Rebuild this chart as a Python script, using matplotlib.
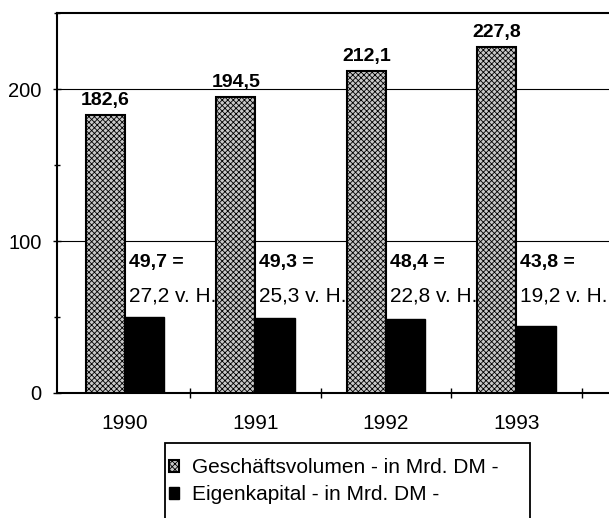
import numpy as np
import matplotlib.pyplot as plt
from matplotlib.ticker import MultipleLocator
from matplotlib.patches import Rectangle

plt.rcParams['font.family'] = ['Liberation Sans', 'DejaVu Sans']
plt.rcParams['hatch.linewidth'] = 0.6
plt.rcParams['hatch.color'] = '#555555'

# Daten
jahre = ['1990', '1991', '1992', '1993']
geschaeftsvolumen = [182.6, 194.5, 212.1, 227.8]
eigenkapital = [49.7, 49.3, 48.4, 43.8]
anteil = ['27,2 v. H.', '25,3 v. H.', '22,8 v. H.', '19,2 v. H.']
gv_labels = ['182,6', '194,5', '212,1', '227,8']
ek_labels = ['49,7 =', '49,3 =', '48,4 =', '43,8 =']

fig = plt.figure(figsize=(6.09, 5.18), dpi=100)
ax = fig.add_axes([57 / 609, 1 - 393 / 518, 552 / 609, 380 / 518])

x = np.arange(len(jahre))
w = 0.3

b1 = ax.bar(x - w / 2, geschaeftsvolumen, w, facecolor='#c8c8c8', edgecolor='black',
            linewidth=1.5, hatch='xxxxxx', zorder=3, label='Geschäftsvolumen - in Mrd. DM -')
b2 = ax.bar(x + w / 2, eigenkapital, w, color='black', edgecolor='black',
            linewidth=1, zorder=3, label='Eigenkapital - in Mrd. DM -')

# Beschriftungen
for i in range(len(jahre)):
    ax.text(x[i] - w / 2, geschaeftsvolumen[i] + 4, gv_labels[i], ha='center', va='bottom',
            fontsize=14, fontweight='bold', zorder=4)
    ax.text(x[i] + 0.03, 86, ek_labels[i], ha='left', va='center',
            fontsize=14, fontweight='bold', zorder=2)
    ax.text(x[i] + 0.03, 63.5, anteil[i], ha='left', va='center',
            fontsize=15, zorder=2)

ax.set_ylim(0, 250)
ax.set_xlim(-0.52, -0.52 + 552 / 130.5)

ax.set_yticks([0, 100, 200])
ax.yaxis.set_minor_locator(MultipleLocator(50))
ax.tick_params(axis='y', which='major', direction='inout', length=6, width=1, labelsize=14.5, pad=8)
ax.tick_params(axis='y', which='minor', direction='inout', length=4, width=1)
ax.grid(axis='y', color='black', linewidth=0.8, zorder=1)

ax.set_xticks(x)
ax.set_xticklabels(jahre)
ax.set_xticks([0.5, 1.5, 2.5, 3.5], minor=True)
ax.tick_params(axis='x', which='major', length=0, labelsize=15, pad=15)
ax.tick_params(axis='x', which='minor', direction='inout', length=7, width=1)

for s in ['left', 'bottom', 'top']:
    ax.spines[s].set_linewidth(1.5)
ax.spines['right'].set_visible(False)

# Legende (Rahmen läuft unten aus dem Bild)
fig.patches.append(Rectangle((165 / 609, -0.05), (530 - 165) / 609, 0.05 + 1 - 443 / 518,
                             transform=fig.transFigure, facecolor='white', edgecolor='black',
                             linewidth=1.3, zorder=0))
leg = fig.legend(handles=[b1, b2], loc='upper left', bbox_to_anchor=(169 / 609, 1 - 458 / 518),
                 fontsize=15, frameon=False, handlelength=0.5, handleheight=0.5,
                 handletextpad=0.6, borderpad=0, labelspacing=0.4, borderaxespad=0)

plt.savefig('out.png', dpi=100)
